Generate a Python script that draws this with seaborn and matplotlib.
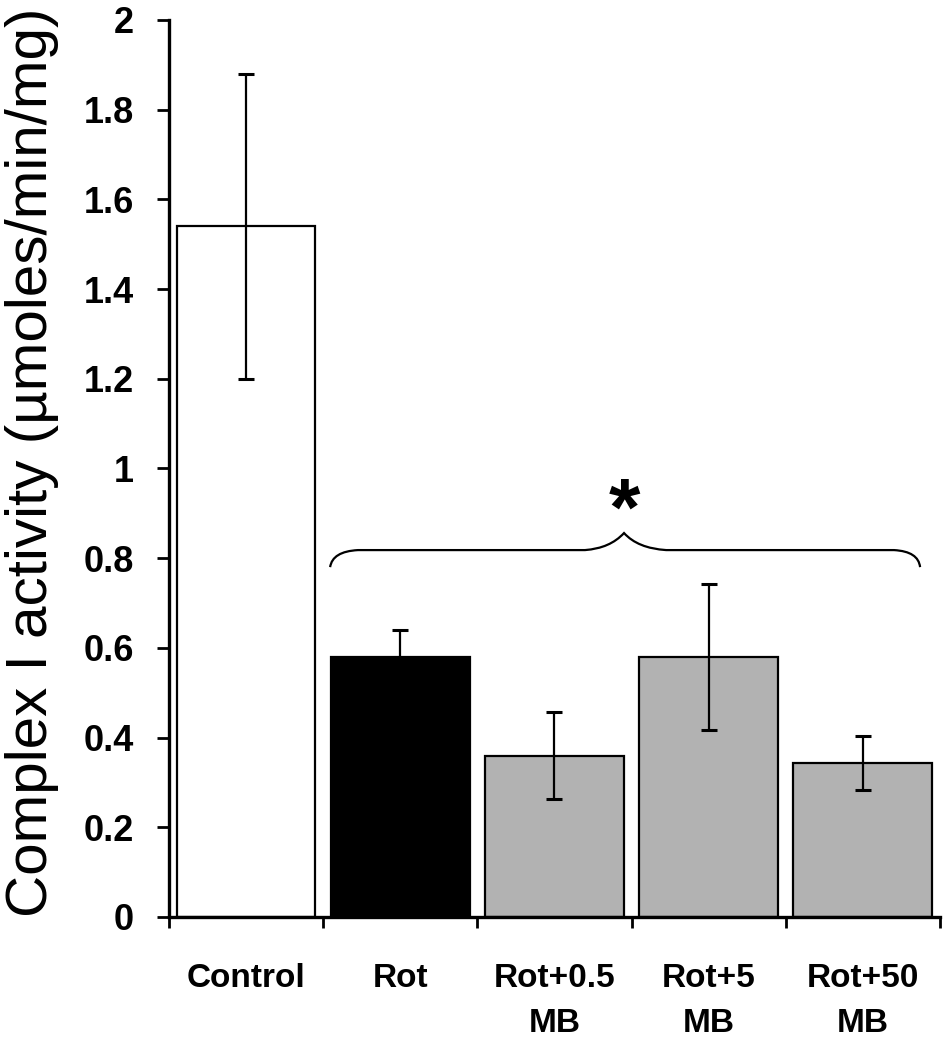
import matplotlib
matplotlib.use("Agg")
import matplotlib.pyplot as plt
from matplotlib.path import Path
from matplotlib.patches import PathPatch
import seaborn as sns
import pandas as pd
import numpy as np

# ---- data ----
categories = ["Control", "Rot", "Rot+0.5\nMB", "Rot+5\nMB", "Rot+50\nMB"]
activity = [1.54, 0.58, 0.36, 0.58, 0.343]
errors = [0.34, 0.06, 0.097, 0.163, 0.06]
bar_colors = ["#ffffff", "#000000", "#b2b2b2", "#b2b2b2", "#b2b2b2"]
ytick_values = [0, 0.2, 0.4, 0.6, 0.8, 1.0, 1.2, 1.4, 1.6, 1.8, 2.0]
ytick_labels = ["0", "0.2", "0.4", "0.6", "0.8", "1", "1.2", "1.4", "1.6", "1.8", "2"]
ylabel = "Complex I activity (\u00b5moles/min/mg)"
signif_mark = "*"

sns.set_style("white")
plt.rcParams["font.family"] = ["Liberation Sans", "DejaVu Sans"]
plt.rcParams["text.color"] = "black"
plt.rcParams["axes.labelcolor"] = "black"
plt.rcParams["xtick.color"] = "black"
plt.rcParams["ytick.color"] = "black"

fig = plt.figure(figsize=(9.45, 10.5), dpi=100)
ax = fig.add_axes([0.1788, 0.1267, 0.9947 - 0.1788, 0.981 - 0.1267])

df = pd.DataFrame({"group": categories, "activity": activity})
sns.barplot(data=df, x="group", y="activity", hue="group",
            palette=dict(zip(categories, bar_colors)), legend=False,
            width=0.9, edgecolor="black", linewidth=1.6, errorbar=None,
            saturation=1, ax=ax)

ax.errorbar(np.arange(len(categories)), activity, yerr=errors, fmt="none",
            ecolor="black", elinewidth=1.6, capsize=5.5, capthick=2.2, zorder=5)

ax.set_xlim(-0.5, 4.5)
ax.set_ylim(0, 2)

# spines
for s in ["top", "right"]:
    ax.spines[s].set_visible(False)
for s in ["left", "bottom"]:
    ax.spines[s].set_linewidth(2.4)
    ax.spines[s].set_color("black")

# y ticks
ax.set_yticks(ytick_values)
ax.set_yticklabels(ytick_labels, fontsize=26, fontweight="bold", color="black")
ax.tick_params(axis="y", which="major", direction="out", length=9, width=2,
               pad=16, left=True, color="black", labelcolor="black")

# x ticks: labels at centers, tick marks at boundaries
ax.set_xticks(np.arange(len(categories)))
ax.set_xticklabels(categories, fontsize=24, fontweight="bold", linespacing=1.6,
                   color="black")
ax.tick_params(axis="x", which="major", length=0, pad=33, labelcolor="black")
ax.set_xticks(np.arange(len(categories) + 1) - 0.5, minor=True)
ax.tick_params(axis="x", which="minor", direction="out", length=8, width=2,
               bottom=True, color="black")

ax.set_xlabel("")
ax.set_ylabel(ylabel, fontsize=42, color="black")
ax.yaxis.set_label_coords(-0.143, 0.507)

# curly brace over treatment groups
verts = [
    (0.545, 0.780), (0.56, 0.815), (0.726, 0.818),
    (2.198, 0.818),
    (2.36, 0.822), (2.451, 0.856),
    (2.54, 0.822), (2.724, 0.818),
    (4.202, 0.818),
    (4.36, 0.815), (4.371, 0.780),
]
codes = [Path.MOVETO, Path.CURVE3, Path.CURVE3,
         Path.LINETO,
         Path.CURVE3, Path.CURVE3,
         Path.CURVE3, Path.CURVE3,
         Path.LINETO,
         Path.CURVE3, Path.CURVE3]
ax.add_patch(PathPatch(Path(verts, codes), facecolor="none",
                       edgecolor="black", lw=1.6, zorder=6))
ax.text(2.451, 0.852, signif_mark, ha="center", va="baseline",
        fontsize=58, fontweight="bold", color="black")

fig.savefig("out.png", dpi=100)
